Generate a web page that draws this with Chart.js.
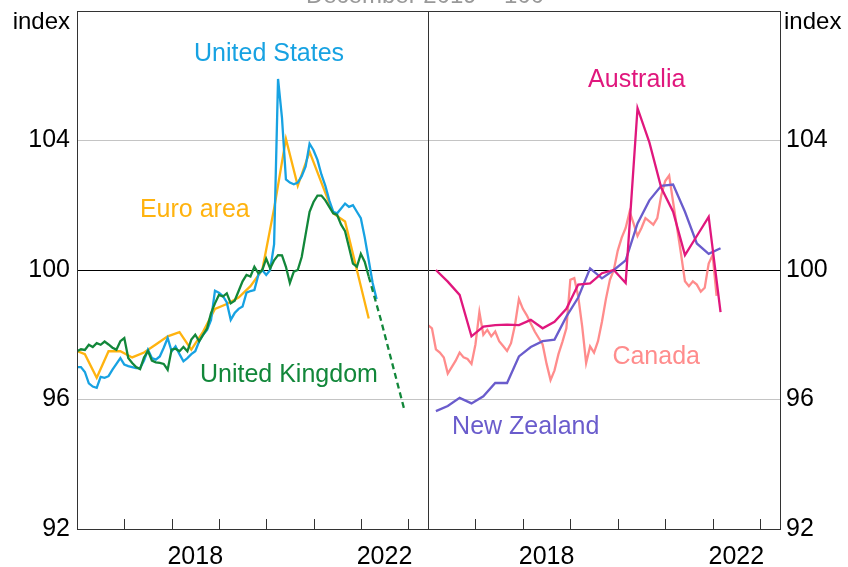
<!DOCTYPE html>
<html>
<head>
<meta charset="utf-8">
<script src="https://cdn.jsdelivr.net/npm/chart.js@4.4.1/dist/chart.umd.min.js"></script>
<style>
  html, body { margin: 0; padding: 0; background: #fff; }
  #wrap { position: relative; width: 848px; height: 567px; overflow: hidden; background: #fff; }
  #wrap canvas { position: absolute; left: 0; top: 0; }
</style>
</head>
<body>
<div id="wrap">
  <canvas id="chart-left" width="848" height="567"></canvas>
  <canvas id="chart-right" width="848" height="567"></canvas>
</div>
<script>
// =====================================================================
// Dua panel indeks (Desember 2019 = 100), tahun desimal di sumbu x.
// =====================================================================

// ---------- Data ----------
const Y_TICKS = [92, 96, 100, 104];
const YEAR_LABELS = [2018, 2022];
const YEAR_MARKS = [2017, 2018, 2019, 2020, 2021, 2022, 2023];

// bulanan, mulai Jan 2016
const usValues = [
  97.0, 97.0, 96.85, 96.5, 96.4, 96.36, 96.7, 96.67, 96.72, 96.92, 97.1, 97.28,
  97.08, 97.03, 97.0, 96.97, 96.97, 97.2, 97.54, 97.28, 97.23, 97.33, 97.6, 97.9,
  97.49, 97.64, 97.4, 97.18, 97.28, 97.4, 97.49, 97.8, 98.0, 98.15, 98.46, 99.36,
  99.3, 99.2, 99.0, 98.46, 98.67, 98.8, 98.87, 99.3, 99.35, 99.38, 99.85, 100.0,
  99.85, 100.0, 100.8, 105.9, 104.7, 102.8, 102.7, 102.65, 102.7, 102.9, 103.2, 103.9,
  103.7, 103.4, 102.95, 102.6, 102.15, 101.8, 101.75, 101.9, 102.05, 101.95, 102.0, 101.8,
  101.6, 101.0, 100.3, 99.6, 99.1,
];

// bulanan, mulai Jan 2016
const ukValues = [
  97.49, 97.55, 97.53, 97.69, 97.62, 97.74, 97.69, 97.79, 97.7, 97.6, 97.54, 97.8,
  97.9, 97.28, 97.13, 97.0, 96.94, 97.3, 97.5, 97.2, 97.15, 97.13, 97.1, 96.92,
  97.54, 97.57, 97.49, 97.62, 97.49, 97.85, 98.0, 97.8, 98.0, 98.2, 98.67, 98.97,
  99.23, 99.18, 99.28, 98.97, 99.05, 99.35, 99.65, 99.85, 99.8, 100.1, 99.9, 100.0,
  100.35, 100.05, 100.3, 100.46, 100.45, 100.1, 99.6, 99.95, 100.0, 100.4, 101.1, 101.8,
  102.1, 102.3, 102.3, 102.15, 101.95, 101.75, 101.7, 101.4, 101.2, 100.7, 100.2, 100.1,
  100.5, 100.25, 99.8,
];
// proyeksi UK (putus-putus), triwulanan mulai Mar 2022
const ukForecast = [99.8, 98.5, 97.1, 95.7];

// triwulanan, mulai Des 2015
const euroValues = [
  97.55, 97.4, 96.67, 97.49, 97.49, 97.3, 97.45, 97.7, 97.95, 98.08, 97.54, 98.1,
  98.8, 98.95, 99.15, 99.5, 100.0, 101.9, 104.05, 102.6, 103.65, 102.7, 101.75, 101.5,
  100.0, 98.5,
];

// triwulanan, mulai Mar 2016
const auValues = [
  100.0, 99.64, 99.23, 97.95, 98.25, 98.3, 98.31, 98.3, 98.46, 98.2, 98.4, 98.8,
  99.55, 99.59, 99.9, 100.0, 99.6, 105.0, 103.94, 102.54, 101.8, 100.46, 101.05, 101.64,
  98.7,
];

// triwulanan, mulai Mar 2016
const nzValues = [
  95.64, 95.8, 96.05, 95.88, 96.1, 96.51, 96.51, 97.33, 97.62, 97.8, 97.85, 98.56,
  99.15, 100.05, 99.74, 100.0, 100.3, 101.44, 102.15, 102.6, 102.64, 101.8, 100.82, 100.5,
  100.67,
];

// bulanan, mulai Jan 2016
const caValues = [
  98.3, 98.2, 97.55, 97.45, 97.3, 96.8, 97.0, 97.2, 97.45, 97.3, 97.25, 97.1,
  97.7, 98.7, 98.0, 98.15, 97.95, 98.1, 97.8, 97.65, 97.5, 97.74, 98.3, 99.1,
  98.8, 98.6, 98.35, 98.1, 97.9, 97.7, 97.1, 96.6, 96.9, 97.4, 97.78, 98.2,
  99.7, 99.75, 99.18, 98.26, 97.13, 97.64, 97.45, 97.8, 98.4, 99.1, 99.69, 100.0,
  100.6, 101.0, 101.3, 101.8, 101.44, 101.05, 101.3, 101.6, 101.5, 101.4, 101.6, 102.3,
  102.75, 102.92, 102.1, 101.3, 100.5, 99.65, 99.5, 99.65, 99.55, 99.33, 99.45, 100.2,
  100.46, 99.2,
];

// ---------- Warna ----------
const C_US = '#17a2e2';
const C_EURO = '#ffb30f';
const C_UK = '#12873a';
const C_AU = '#e0177d';
const C_CA = '#ff8c8c';
const C_NZ = '#6a5ccc';

const FONT = "'Liberation Sans', Arial, sans-serif";
const X_MIN = 2016, X_MAX = 2023.42;

// bulan ke-i (langkah step bulan) -> tahun desimal
function series(startYear, startMonth, values, step) {
  const s = step || 1;
  return values.map((v, i) => ({ x: startYear + (startMonth - 1 + i * s) / 12, y: v }));
}

function line(data, color, order, dash) {
  return {
    data: data, borderColor: color, borderWidth: 2.3, borderDash: dash || [],
    pointRadius: 0, tension: 0, fill: false, order: order,
  };
}

// ---------- Plugin: bingkai, tick tahun, label seri, judul ----------
const decorPlugin = {
  id: 'decor',
  afterDraw(chart, args, opts) {
    const { ctx, chartArea: a, scales } = chart;
    ctx.save();
    ctx.strokeStyle = '#333';
    ctx.lineWidth = 1;
    ctx.strokeRect(a.left + 0.5, a.top + 0.5, a.right - a.left, a.bottom - a.top);
    ctx.beginPath();
    YEAR_MARKS.forEach((yr) => {
      const px = Math.round(scales.x.getPixelForValue(yr)) + 0.5;
      ctx.moveTo(px, a.bottom);
      ctx.lineTo(px, a.bottom - 10);
    });
    ctx.stroke();

    ctx.font = '25px ' + FONT;
    ctx.textBaseline = 'middle';
    ctx.textAlign = 'center';
    opts.labels.forEach((l) => {
      ctx.fillStyle = l.color;
      ctx.fillText(l.text, scales.x.getPixelForValue(l.x), scales.y.getPixelForValue(l.y));
    });

    ctx.font = '24px ' + FONT;
    ctx.fillStyle = '#000';
    ctx.textAlign = opts.unitAlign;
    ctx.fillText('index', opts.unitX, 22);

    if (opts.title) {
      ctx.fillStyle = '#999';
      ctx.textAlign = 'center';
      ctx.textBaseline = 'alphabetic';
      ctx.fillText(opts.title, 425, 3);
    }
    ctx.restore();
  },
};

function makeChart(canvasId, datasets, side, labels, extra) {
  const ctx = document.getElementById(canvasId).getContext('2d');
  return new Chart(ctx, {
    type: 'line',
    data: { datasets: datasets },
    plugins: [decorPlugin],
    options: {
      responsive: false,
      animation: false,
      events: [],
      layout: { padding: side === 'left'
        ? { left: 0, right: 420, top: 11, bottom: 0 }
        : { left: 428, right: 0, top: 11, bottom: 0 } },
      plugins: {
        legend: { display: false },
        tooltip: { enabled: false },
        decor: Object.assign({ labels: labels }, extra),
      },
      scales: {
        x: {
          type: 'linear', min: X_MIN, max: X_MAX,
          afterBuildTicks: (s) => { s.ticks = YEAR_LABELS.map((y) => ({ value: y + 0.5 })); },
          afterFit: (s) => { s.height = 38; s.paddingLeft = 0; s.paddingRight = 0; },
          grid: { display: false },
          border: { display: false },
          ticks: {
            autoSkip: false, maxRotation: 0, padding: 5, color: '#000',
            font: { family: FONT, size: 25 },
            callback: (v) => String(Math.floor(v)),
          },
        },
        y: {
          position: side, min: 92, max: 108,
          afterBuildTicks: (s) => { s.ticks = Y_TICKS.map((v) => ({ value: v })); },
          afterFit: (s) => {
            s.width = side === 'left' ? 77 : 68;
            s.paddingTop = 0; s.paddingBottom = 0;
          },
          border: { display: false },
          grid: {
            drawTicks: false,
            color: (c) => (c.tick.value === 100 ? '#000' : c.tick.value === 92 ? 'rgba(0,0,0,0)' : '#c4c4c4'),
          },
          ticks: {
            padding: side === 'left' ? 7 : 6, color: '#000',
            font: { family: FONT, size: 25 },
          },
        },
      },
    },
  });
}

// ---------- Panel kiri ----------
makeChart('chart-left', [
  line(series(2016, 1, ukValues), C_UK, 0),
  line(series(2022, 3, ukForecast, 3), C_UK, 0, [6, 4]),
  line(series(2016, 1, usValues), C_US, 1),
  line(series(2015, 12, euroValues, 3), C_EURO, 2),
], 'left', [
  { text: 'United States', color: C_US, x: 2020.06, y: 106.68 },
  { text: 'Euro area', color: C_EURO, x: 2018.49, y: 101.85 },
  { text: 'United Kingdom', color: C_UK, x: 2020.48, y: 96.74 },
], { unitAlign: 'right', unitX: 70, title: 'December 2019 = 100' });

// ---------- Panel kanan ----------
makeChart('chart-right', [
  line(series(2016, 3, auValues, 3), C_AU, 0),
  line(series(2016, 3, nzValues, 3), C_NZ, 1),
  line(series(2016, 1, caValues), C_CA, 2),
], 'right', [
  { text: 'Australia', color: C_AU, x: 2020.40, y: 105.88 },
  { text: 'Canada', color: C_CA, x: 2020.81, y: 97.32 },
  { text: 'New Zealand', color: C_NZ, x: 2018.06, y: 95.14 },
], { unitAlign: 'left', unitX: 784 });
</script>
</body>
</html>
